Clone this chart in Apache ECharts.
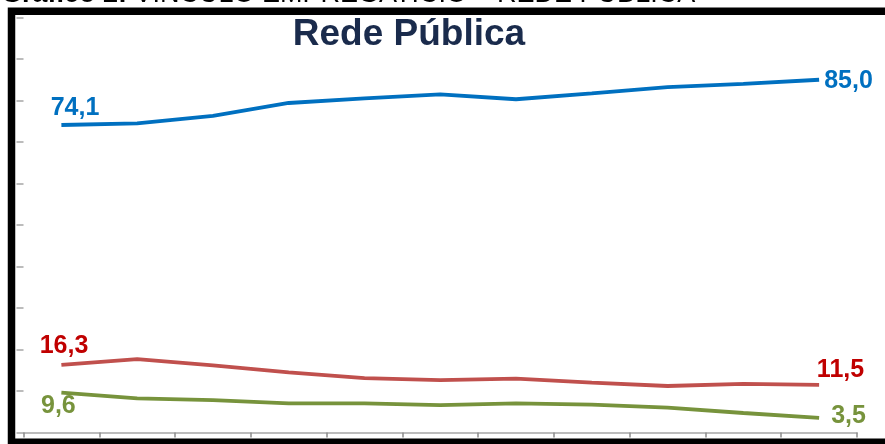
<!DOCTYPE html>
<html>
<head>
<meta charset="utf-8">
<script src="https://cdn.jsdelivr.net/npm/echarts@6/dist/echarts.min.js"></script>
<style>
html,body{margin:0;padding:0;background:#fff;}
#chart{width:885px;height:444px;}
</style>
</head>
<body>
<div id="chart"></div>
<script>
var categories = ['1','2','3','4','5','6','7','8','9','10','11'];
var blueValues  = [74.1, 74.5, 76.3, 79.4, 80.5, 81.5, 80.3, 81.7, 83.2, 84.0, 85.0];
var redValues   = [16.3, 17.7, 16.2, 14.5, 13.1, 12.6, 13.0, 12.0, 11.2, 11.7, 11.5];
var greenValues = [9.6, 8.2, 7.8, 7.0, 7.0, 6.6, 7.0, 6.7, 6.0, 4.7, 3.5];
var yTicks = [0, 10, 20, 30, 40, 50, 60, 70, 80, 90, 100];
var headerBold = 'Gráfico 2: ';
var headerRest = 'VÍNCULO EMPREGATÍCIO – REDE PÚBLICA';
var chartTitle = 'Rede Pública';

function fmt(v){ return v.toFixed(1).replace('.', ','); }

function buildData(values, color, firstLbl, lastLbl){
  return values.map(function(v, i){
    var item = {value: v};
    var cfg = null;
    if (i === 0) cfg = firstLbl;
    if (i === values.length - 1) cfg = lastLbl;
    if (cfg) {
      item.label = Object.assign({
        show: true,
        formatter: function(p){ return fmt(p.value); },
        color: color,
        fontFamily: 'Liberation Sans, Arial, sans-serif',
        fontWeight: 'bold',
        fontSize: 25
      }, cfg);
    }
    return item;
  });
}

function lineSeries(name, values, lineColor, labelColor, firstLbl, lastLbl){
  return {
    name: name,
    type: 'line',
    data: buildData(values, labelColor, firstLbl, lastLbl),
    symbol: 'circle',
    symbolSize: 0.1,
    showSymbol: true,
    itemStyle: {color: lineColor},
    lineStyle: {color: lineColor, width: 3.8},
    label: {show: false},
    animation: false,
    z: 3
  };
}

var chart = echarts.init(document.getElementById('chart'));
chart.setOption({
  backgroundColor: '#ffffff',
  animation: false,
  grid: {left: 23.5, right: 28, top: 17.5, bottom: 11.5, containLabel: false},
  xAxis: {
    type: 'category',
    data: categories,
    boundaryGap: true,
    axisLine: {show: true, lineStyle: {color: '#a6a6a6', width: 1.5}},
    axisTick: {show: true, length: 5, lineStyle: {color: '#8c8c8c', width: 1.5}},
    axisLabel: {show: false},
    splitLine: {show: false}
  },
  yAxis: {
    type: 'value',
    min: yTicks[0],
    max: yTicks[yTicks.length - 1],
    interval: yTicks[1] - yTicks[0],
    axisLine: {show: false},
    axisTick: {show: true, length: 7, lineStyle: {color: '#a6a6a6', width: 1.5}},
    axisLabel: {show: false},
    splitLine: {show: false}
  },
  series: [
    lineSeries('Azul', blueValues, '#0070C0', '#0070C0',
      {position: 'top', distance: 4, offset: [13.6, 0]},
      {position: 'right', distance: 5, offset: [0, 1]}),
    lineSeries('Vermelho', redValues, '#C0504D', '#C00000',
      {position: 'top', distance: 6.4, offset: [2.6, 0]},
      {position: 'top', distance: 1.8, offset: [21.4, 0]}),
    lineSeries('Verde', greenValues, '#77933C', '#77933C',
      {position: 'bottom', distance: 0.5, offset: [-3, 0]},
      {position: 'right', distance: 12, offset: [0, -1.5]})
  ],
  graphic: [
    {
      type: 'text',
      x: 1, y: 7.8,
      z: 10,
      style: {
        text: '{b|' + headerBold + '}{r|' + headerRest + '}',
        rich: {
          b: {fontFamily: 'Liberation Sans, Arial, sans-serif', fontWeight: 'bold', fontSize: 27, fill: '#000'},
          r: {fontFamily: 'Liberation Sans, Arial, sans-serif', fontWeight: 'normal', fontSize: 27, fill: '#000'}
        },
        verticalAlign: 'bottom',
        align: 'left'
      }
    },
    {
      type: 'rect',
      z: 20,
      shape: {x: 11.5, y: 11.2, width: 895, height: 431},
      style: {fill: 'none', stroke: '#000', lineWidth: 7.5}
    },
    {
      type: 'text',
      x: 409, y: 34.5,
      z: 10,
      style: {
        text: chartTitle,
        fontFamily: 'Liberation Sans, Arial, sans-serif',
        fontWeight: 'bold',
        fontSize: 37,
        fill: '#1a2b4c',
        align: 'center',
        verticalAlign: 'middle'
      }
    }
  ]
});
</script>
</body>
</html>
